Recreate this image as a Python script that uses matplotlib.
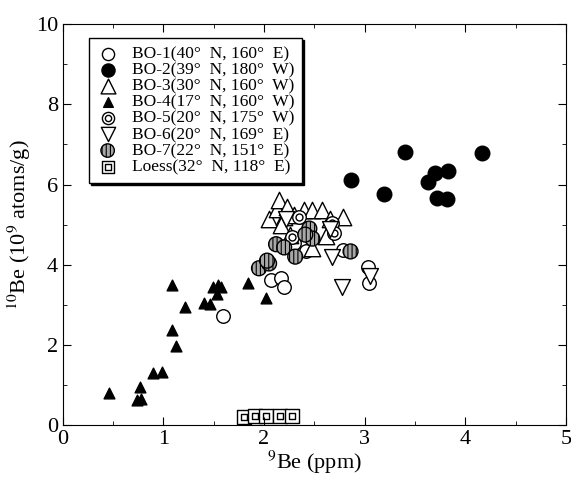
import numpy as np
from matplotlib import pyplot as plt
from matplotlib.ticker import MultipleLocator

plt.rcParams['font.family'] = ['Liberation Serif', 'DejaVu Serif']
plt.rcParams['mathtext.fontset'] = 'stix'
plt.rcParams['hatch.linewidth'] = 0.8

# 9Be (ppm) and 10Be (1e9 atoms/g)
bo1_x = [1.59, 2.07, 2.17, 2.20, 2.30, 2.42, 2.78, 3.03, 3.04]
bo1_y = [2.72, 3.62, 3.66, 3.45, 4.55, 4.35, 4.37, 3.95, 3.53]

bo2_x = [2.86, 3.19, 3.40, 3.63, 3.70, 3.83, 3.72, 3.82, 4.17]
bo2_y = [6.11, 5.77, 6.82, 6.05, 6.28, 6.33, 5.67, 5.64, 6.79]

bo3_x = [2.05, 2.13, 2.15, 2.20, 2.23, 2.17, 2.30, 2.40, 2.48, 2.58, 2.66, 2.78, 2.26, 2.48, 2.62]
bo3_y = [5.15, 5.40, 5.61, 5.19, 5.44, 4.99, 5.24, 5.36, 5.36, 5.36, 5.15, 5.19, 4.74, 4.41, 4.72]

bo4_x = [0.46, 0.74, 0.78, 0.77, 0.90, 0.99, 1.09, 1.13, 1.09, 1.21, 1.40, 1.46,
         1.49, 1.54, 1.53, 1.57, 1.84, 2.02]
bo4_y = [0.79, 0.63, 0.65, 0.95, 1.30, 1.31, 2.37, 1.97, 3.49, 2.95, 3.05, 3.03,
         3.45, 3.50, 3.27, 3.45, 3.53, 3.18]

bo5_x = [2.35, 2.68, 2.70, 2.28, 2.45]
bo5_y = [5.19, 5.05, 4.80, 4.69, 4.90]

bo6_x = [2.22, 2.66, 2.68, 2.77, 3.05]
bo6_y = [5.15, 4.90, 4.18, 3.45, 3.72]

bo7_x = [1.95, 2.05, 2.03, 2.12, 2.20, 2.31, 2.45, 2.48, 2.41, 2.86]
bo7_y = [3.91, 4.03, 4.10, 4.51, 4.43, 4.20, 4.90, 4.65, 4.75, 4.33]

loess_x = [1.80, 1.91, 2.02, 2.16, 2.28]
loess_y = [0.20, 0.22, 0.22, 0.22, 0.22]

labels = ['BO-1(40°  N, 160°  E)',
          'BO-2(39°  N, 180°  W)',
          'BO-3(30°  N, 160°  W)',
          'BO-4(17°  N, 160°  W)',
          'BO-5(20°  N, 175°  W)',
          'BO-6(20°  N, 169°  E)',
          'BO-7(22°  N, 151°  E)',
          'Loess(32°  N, 118°  E)']

fig = plt.figure(figsize=(5.71, 4.84), dpi=100)
ax = fig.add_axes([0.110, 0.122, 0.881, 0.828])

kw = dict(edgecolors='k', linewidths=1.0)
h1 = ax.scatter(bo1_x, bo1_y, s=95, marker='o', facecolors='white', **kw)
h2 = ax.scatter(bo2_x, bo2_y, s=110, marker='o', facecolors='k', **kw)
h3 = ax.scatter(bo3_x, bo3_y, s=140, marker='^', facecolors='white', **kw)
h4 = ax.scatter(bo4_x, bo4_y, s=60, marker='^', facecolors='k', **kw)
h5a = ax.scatter(bo5_x, bo5_y, s=95, marker='o', facecolors='white', **kw)
h5b = ax.scatter(bo5_x, bo5_y, s=25, marker='o', facecolors='white', **kw)
h6 = ax.scatter(bo6_x, bo6_y, s=130, marker='v', facecolors='white', **kw)
h7 = ax.scatter(bo7_x, bo7_y, s=115, marker='o', facecolors='#a8a8a8', hatch='||||', **kw)
h8a = ax.scatter(loess_x, loess_y, s=90, marker='s', facecolors='white', **kw)
h8b = ax.scatter(loess_x, loess_y, s=18, marker='s', facecolors='white', **kw)

handles = [h1, h2, h3, h4, (h5a, h5b), h6, h7, (h8a, h8b)]
leg = ax.legend(handles, labels, loc='upper left', bbox_to_anchor=(0.052, 0.965),
                fontsize=12.5, frameon=True, fancybox=False, edgecolor='k',
                handletextpad=0.75, handlelength=1.25, labelspacing=0.0,
                borderpad=0.45, borderaxespad=0, markerscale=0.9,
                scatterpoints=1, shadow={'color': 'k', 'alpha': 1, 'ox': 1.5, 'oy': -1.5})
leg.get_frame().set_linewidth(1.0)

ax.set_xlim(0, 5)
ax.set_ylim(0, 10)
ax.xaxis.set_major_locator(MultipleLocator(1))
ax.xaxis.set_minor_locator(MultipleLocator(0.5))
ax.yaxis.set_major_locator(MultipleLocator(2))
ax.yaxis.set_minor_locator(MultipleLocator(1))
ax.tick_params(which='both', direction='in', top=True, right=True, labelsize=16)
ax.tick_params(which='major', length=6)
ax.tick_params(which='minor', length=3)
ax.set_xlabel('$^{9}$Be (ppm)', fontsize=16, labelpad=0)
ax.set_ylabel('$^{10}$Be (10$^{9}$ atoms/g)', fontsize=16, labelpad=2)

fig.savefig('out.png', dpi=100)
